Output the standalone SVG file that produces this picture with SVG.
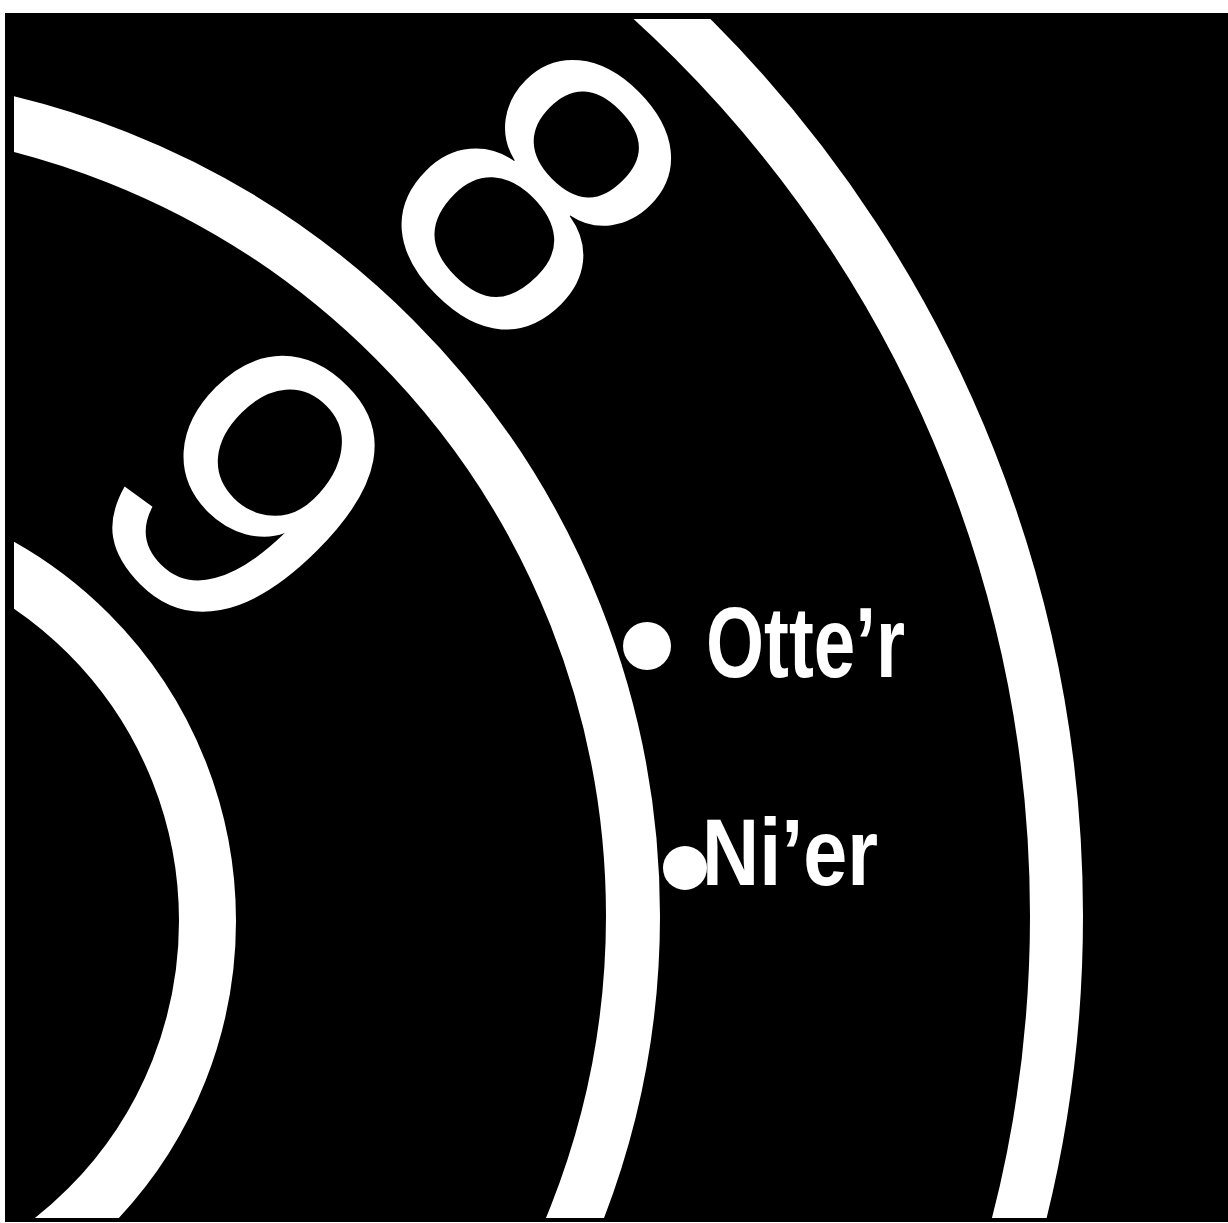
<svg xmlns="http://www.w3.org/2000/svg" width="1228" height="1223" viewBox="0 0 1228 1223">
<defs>
<clipPath id="clip"><rect x="14" y="19" width="1214" height="1199"/></clipPath>
<style>
.band{fill:none;stroke:#fff}
.digit{fill:#fff;font-family:"Liberation Sans",Arial,sans-serif;font-size:405px;text-anchor:middle}
.lbl{fill:#fff;font-family:"Liberation Sans",Arial,sans-serif;font-weight:bold}
.dot{fill:#fff}
</style>
</defs>
<rect width="1228" height="1223" fill="#fff"/>
<rect x="5" y="13" width="1223" height="1209" fill="#000"/>
<g id="bands" clip-path="url(#clip)">
<circle class="band" cx="-199" cy="921" r="406.5" stroke-width="57"/>
<circle class="band" cx="-183" cy="916" r="816" stroke-width="54"/>
<circle class="band" cx="-183" cy="916" r="1239.5" stroke-width="53"/>
</g>
<g id="digit-9"><text class="digit" transform="translate(148.5,587) rotate(45)" x="0" y="0">9</text></g>
<g id="digit-8"><text class="digit" transform="translate(439,292) rotate(45)" x="0" y="0">8</text></g>
<g id="otter"><circle class="dot" cx="647" cy="646" r="24"/><text class="lbl" font-size="100" x="706" y="677" textLength="199" lengthAdjust="spacingAndGlyphs">Otte’r</text></g>
<g id="nier"><circle class="dot" cx="685" cy="868" r="22"/><text class="lbl" font-size="94" x="702" y="885" textLength="176" lengthAdjust="spacingAndGlyphs">Ni’er</text></g>
</svg>
